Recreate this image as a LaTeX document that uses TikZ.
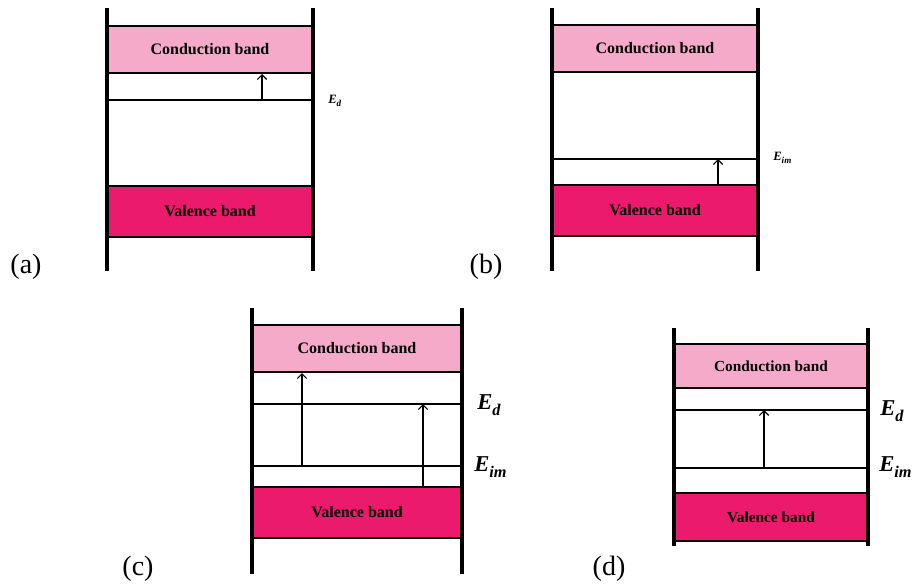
\documentclass[tikz,border=0pt]{standalone}
\usepackage{fontspec}
\setmainfont{Liberation Serif}
\usetikzlibrary{arrows.meta}
\definecolor{cbpink}{RGB}{244,170,200}
\definecolor{vbpink}{RGB}{236,26,108}
\newcommand{\subsc}[1]{\raisebox{-0.28em}{\scalebox{0.72}{#1}}}
\tikzset{
  wall/.style={line width=3pt},
  level/.style={line width=1pt},
  cband/.style={draw, line width=1.5pt, fill=cbpink, font=\bfseries\fontsize{12}{14}\selectfont, inner sep=0pt},
  vband/.style={draw, line width=1.5pt, fill=vbpink, font=\bfseries\fontsize{12}{14}\selectfont, inner sep=0pt},
  jump/.style={line width=0.9pt, -{Straight Barb[length=3.5pt,width=7pt]}},
  smalllab/.style={font=\fontsize{9.5}{11}\selectfont\bfseries\itshape, anchor=west, inner sep=0pt},
  biglab/.style={font=\fontsize{17}{20}\selectfont\bfseries\itshape, anchor=west, inner sep=0pt},
  tag/.style={font=\fontsize{21}{24}\selectfont, inner sep=0pt}
}
\begin{document}
\begin{tikzpicture}[x=0.75pt, y=-0.75pt]
\useasboundingbox (0,0) rectangle (912,586);

% ---------- (a) donor level ----------
\node[cband, minimum width=154.5pt, minimum height=35.25pt] (acb) at (210,49.5) {Conduction band};
\node[vband, minimum width=154.5pt, minimum height=38.25pt] (avb) at (210,211.5) {Valence band};
\coordinate (aEdL) at (107,100);
\coordinate (aEdR) at (314,100);
\draw[level] (aEdL) -- (aEdR);
\coordinate (aA0) at (262,100);
\draw[jump] (aA0) -- (aA0 |- acb.south);
\draw[wall] (107,8) -- (107,271);
\draw[wall] (313,8) -- (313,271);
\node[smalllab] (aEd) at (328,101) {E\subsc{d}};
\node[tag] (ta) at (26,267) {(a)};

% ---------- (b) impurity level ----------
\node[cband, minimum width=154.5pt, minimum height=35.25pt] (bcb) at (655,48.5) {Conduction band};
\node[vband, minimum width=154.5pt, minimum height=38.25pt] (bvb) at (655,210.5) {Valence band};
\coordinate (bEiL) at (552,159);
\coordinate (bEiR) at (760,159);
\draw[level] (bEiL) -- (bEiR);
\coordinate (bA0) at (718,159);
\draw[jump] (bA0 |- bvb.north) -- (bA0);
\draw[wall] (552,8) -- (552,271);
\draw[wall] (758,8) -- (758,271);
\node[smalllab] (bEi) at (773,158) {E\subsc{im}};
\node[tag] (tb) at (486,267) {(b)};

% ---------- (c) both levels, two transitions ----------
\node[cband, minimum width=157.5pt, minimum height=35.25pt] (ccb) at (357,348.5) {Conduction band};
\node[vband, minimum width=157.5pt, minimum height=38.25pt] (cvb) at (357,512.5) {Valence band};
\coordinate (cEdL) at (252,404);
\coordinate (cEdR) at (464,404);
\coordinate (cEiL) at (252,466);
\coordinate (cEiR) at (464,466);
\draw[level] (cEdL) -- (cEdR);
\draw[level] (cEiL) -- (cEiR);
\coordinate (cA1) at (302,466);
\coordinate (cA2) at (423,404);
\draw[jump] (cA1) -- (cA1 |- ccb.south);
\draw[jump] (cA2 |- cvb.north) -- (cA2);
\draw[wall] (252,308) -- (252,574);
\draw[wall] (462,308) -- (462,574);
\node[biglab] (cEd) at (477,405) {E\subsc{d}};
\node[biglab] (cEi) at (474,467) {E\subsc{im}};
\node[tag] (tc) at (138,569) {(c)};

% ---------- (d) impurity to donor transition ----------
\node[cband, minimum width=145.5pt, minimum height=33pt, font=\bfseries\fontsize{11.5}{14}\selectfont] (dcb) at (771,366) {Conduction band};
\node[vband, minimum width=145.5pt, minimum height=36pt, font=\bfseries\fontsize{11.5}{14}\selectfont] (dvb) at (771,517) {Valence band};
\coordinate (dEdL) at (674,410);
\coordinate (dEdR) at (870,410);
\coordinate (dEiL) at (674,468);
\coordinate (dEiR) at (870,468);
\draw[level] (dEdL) -- (dEdR);
\draw[level] (dEiL) -- (dEiR);
\coordinate (dA0) at (764,468);
\draw[jump] (dA0) -- (dA0 |- dEdL);
\draw[wall] (674,328) -- (674,546);
\draw[wall] (868,328) -- (868,546);
\node[biglab] (dEd) at (880,411) {E\subsc{d}};
\node[biglab] (dEi) at (879,467) {E\subsc{im}};
\node[tag] (td) at (609,569) {(d)};
\end{tikzpicture}
\end{document}
